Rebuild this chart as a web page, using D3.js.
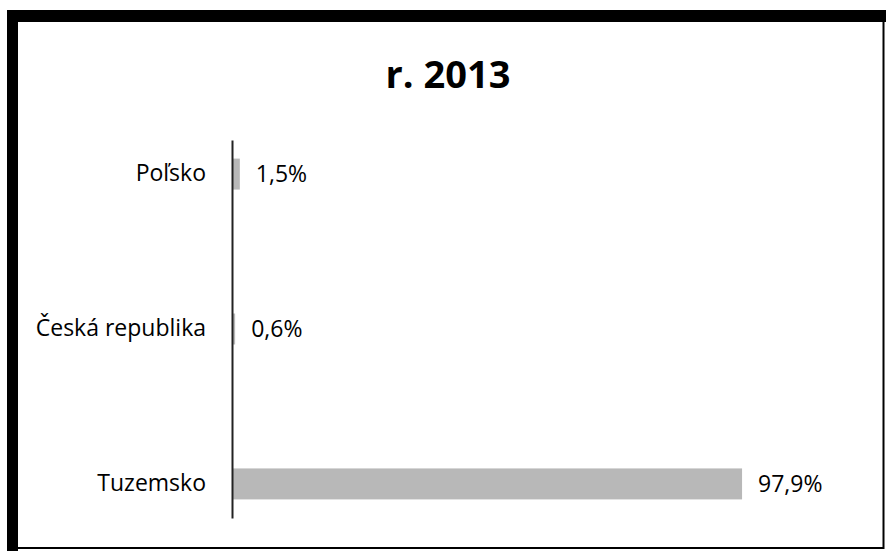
<!DOCTYPE html>
<html>
<head>
<meta charset="utf-8">
<script src="https://cdn.jsdelivr.net/npm/d3@7"></script>
<style>
  body { margin: 0; background: #fff; }
  svg { display: block; }
</style>
</head>
<body>
<div id="container"></div>
<script>
let w = 886;
let h = 551;

let title = "r. 2013";
let categories = ["Poľsko", "Česká republika", "Tuzemsko"];
let values = [1.5, 0.6, 97.9];
let valueLabels = ["1,5%", "0,6%", "97,9%"];

let fontFamily = "'Open Sans', Lato, sans-serif";

let viz = d3.select("#container")
  .append("svg")
  .attr("width", w)
  .attr("height", h)
  .style("background-color", "#fff");

// scanned frame
viz.append("rect")
  .attr("x", 12.5).attr("y", 16)
  .attr("width", 871).attr("height", 532)
  .attr("fill", "none")
  .attr("stroke", "#000")
  .attr("stroke-width", 2);
viz.append("rect").attr("x", 7).attr("y", 10).attr("width", 879).attr("height", 12).attr("fill", "#000");
viz.append("rect").attr("x", 7).attr("y", 10).attr("width", 11).attr("height", 541).attr("fill", "#000");

// title
viz.append("text")
  .attr("x", 448)
  .attr("y", 88)
  .attr("text-anchor", "middle")
  .attr("font-family", fontFamily)
  .attr("font-weight", "bold")
  .attr("font-size", "38px")
  .attr("fill", "#000")
  .text(title);

// scales
let xScale = d3.scaleLinear().domain([0, 100]).range([232, 753]);
let yScale = d3.scaleBand()
  .domain(categories)
  .range([140, 518])
  .paddingInner(0.8)
  .paddingOuter(0.12);

// bars
viz.selectAll(".bar")
  .data(values)
  .enter()
  .append("rect")
  .attr("class", "bar")
  .attr("x", xScale(0))
  .attr("y", (d, i) => yScale(categories[i]))
  .attr("width", d => xScale(d) - xScale(0))
  .attr("height", yScale.bandwidth())
  .attr("fill", "#b8b8b8");

// value labels
viz.selectAll(".val")
  .data(values)
  .enter()
  .append("text")
  .attr("class", "val")
  .attr("x", d => xScale(d) + 16)
  .attr("y", (d, i) => yScale(categories[i]) + yScale.bandwidth() / 2)
  .attr("dy", "0.35em")
  .attr("font-family", fontFamily)
  .attr("font-size", "23px")
  .attr("fill", "#000")
  .text((d, i) => valueLabels[i]);

// category axis
let yAxis = d3.axisLeft(yScale).tickSize(0).tickPadding(26);
let yAxisGroup = viz.append("g")
  .attr("class", "yAxisGroup")
  .attr("transform", "translate(" + xScale(0) + ",0)")
  .call(yAxis);
yAxisGroup.select(".domain")
  .attr("stroke", "#222")
  .attr("stroke-width", 2);
yAxisGroup.selectAll("text")
  .attr("font-family", fontFamily)
  .attr("font-size", "23px")
  .attr("fill", "#000");
</script>
</body>
</html>
